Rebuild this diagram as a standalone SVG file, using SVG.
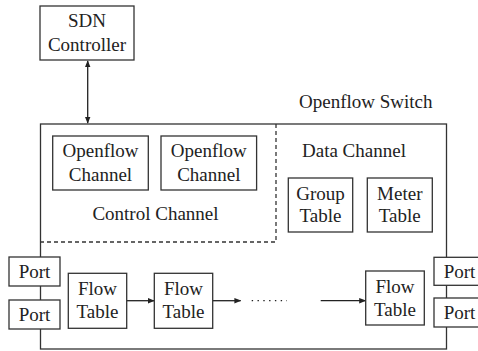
<svg xmlns="http://www.w3.org/2000/svg" width="478" height="351" viewBox="0 0 478 351" font-family="'Liberation Serif', 'Times New Roman', Times, 'DejaVu Serif', serif">
<defs>
<marker id="ah" viewBox="0 0 10 10" refX="9" refY="5" markerWidth="7" markerHeight="7" orient="auto-start-reverse" markerUnits="userSpaceOnUse">
<path d="M0,1 L10,5 L0,9 z" fill="#222"/>
</marker>
<style>
.b{fill:#fff;stroke:#333;stroke-width:1.3}
.o{fill:none;stroke:#333;stroke-width:1.3}
.d{fill:none;stroke:#333;stroke-width:1.3;stroke-dasharray:4,3}
.l{fill:none;stroke:#222;stroke-width:1.3}
text{font-family:'Liberation Serif','Times New Roman',Times,'DejaVu Serif',serif;font-size:19px;fill:#222}
.c{text-anchor:middle}
</style>
</defs>
<rect width="478" height="351" fill="#fff"/>
<g id="switch">
<rect class="o" x="40.5" y="124" width="406" height="225"/>
<text x="299" y="108">Openflow Switch</text>
</g>
<g id="control-channel">
<path class="d" d="M276,124 V242 H40.5"/>
<text class="c" x="155.5" y="220">Control Channel</text>
</g>
<g id="data-channel">
<text x="302" y="157">Data Channel</text>
</g>
<g id="connectors">
<line class="l" x1="87.7" y1="61" x2="87.7" y2="123" marker-start="url(#ah)" marker-end="url(#ah)"/>
<line class="l" x1="126.7" y1="300.7" x2="154" y2="300.7" marker-end="url(#ah)"/>
<line class="l" x1="212.7" y1="300.7" x2="240.7" y2="300.7" marker-end="url(#ah)"/>
<line class="l" x1="251.7" y1="300.7" x2="287" y2="300.7" stroke-dasharray="1.4,4.4" stroke-width="1.6"/>
<line class="l" x1="320.7" y1="300.7" x2="365.5" y2="300.7" marker-end="url(#ah)"/>
</g>
<g id="sdn-controller">
<rect class="b" x="40" y="6" width="94" height="54"/>
<text class="c" x="87" y="27.3">SDN</text>
<text class="c" x="87" y="50.7">Controller</text>
</g>
<g id="openflow-channel-1">
<rect class="b" x="52.7" y="136" width="95.6" height="54"/>
<text class="c" x="100.5" y="156.7">Openflow</text>
<text class="c" x="100.5" y="180.7">Channel</text>
</g>
<g id="openflow-channel-2">
<rect class="b" x="161" y="136" width="95.6" height="54"/>
<text class="c" x="208.8" y="156.7">Openflow</text>
<text class="c" x="208.8" y="180.7">Channel</text>
</g>
<g id="group-table">
<rect class="b" x="288.3" y="178" width="64.4" height="54"/>
<text class="c" x="320.5" y="200">Group</text>
<text class="c" x="320.5" y="221.7">Table</text>
</g>
<g id="meter-table">
<rect class="b" x="367.3" y="178" width="65" height="54"/>
<text class="c" x="399.8" y="200">Meter</text>
<text class="c" x="399.8" y="221.7">Table</text>
</g>
<g id="port-l1">
<rect class="b" x="9" y="257" width="51" height="29"/>
<text class="c" x="34.5" y="278.3">Port</text>
</g>
<g id="port-l2">
<rect class="b" x="9" y="300" width="51" height="29"/>
<text class="c" x="34.5" y="320.7">Port</text>
</g>
<g id="port-r1">
<rect class="b" x="434" y="257.3" width="51" height="28"/>
<text class="c" x="459.5" y="278">Port</text>
</g>
<g id="port-r2">
<rect class="b" x="434" y="298" width="51" height="29"/>
<text class="c" x="459.5" y="319">Port</text>
</g>
<g id="flow-table-1">
<rect class="b" x="68.3" y="273.3" width="58.4" height="55"/>
<text class="c" x="97.5" y="295">Flow</text>
<text class="c" x="97.5" y="318.3">Table</text>
</g>
<g id="flow-table-2">
<rect class="b" x="154.3" y="273.3" width="58.4" height="55"/>
<text class="c" x="183.5" y="295">Flow</text>
<text class="c" x="183.5" y="318.3">Table</text>
</g>
<g id="flow-table-3">
<rect class="b" x="365.7" y="271" width="58.6" height="54"/>
<text class="c" x="395" y="292.7">Flow</text>
<text class="c" x="395" y="316">Table</text>
</g>
</svg>
